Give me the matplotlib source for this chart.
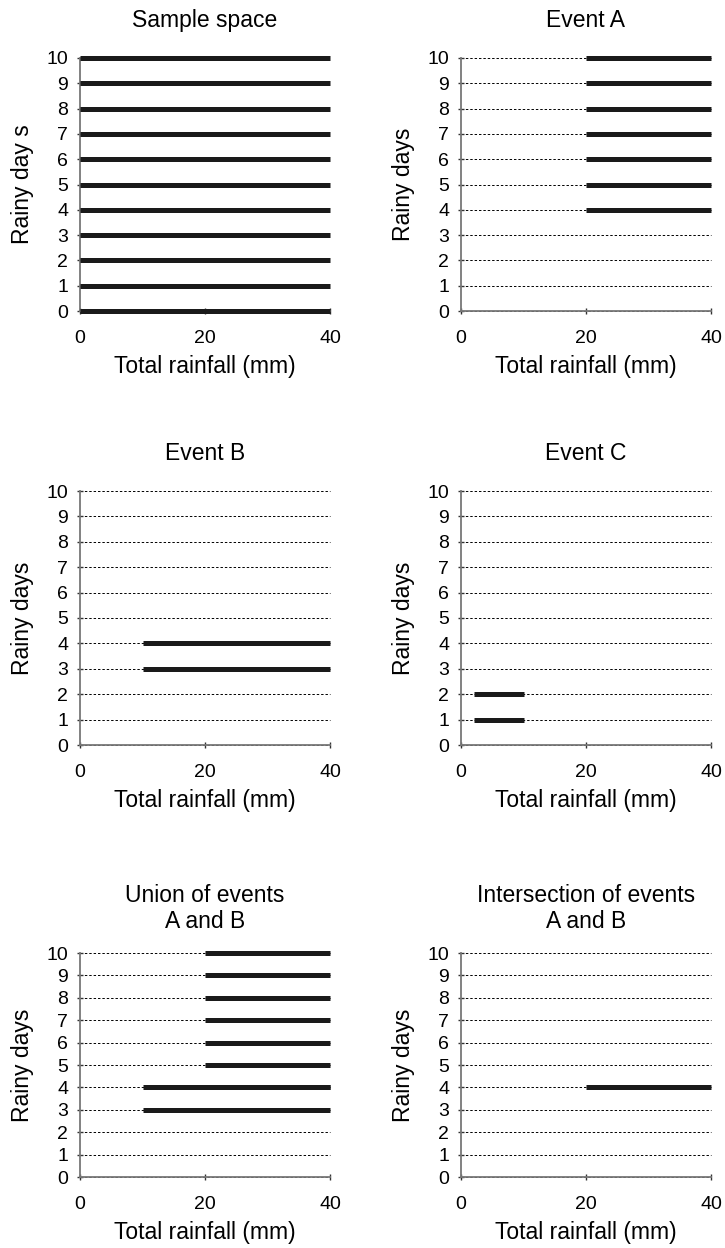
import numpy as np
import matplotlib.pyplot as plt

plt.rcParams['font.family'] = ['Liberation Sans', 'DejaVu Sans']

# rainy days values and rainfall ranges (start, end) in mm for each panel
days = np.arange(0, 11)

sample_days = list(range(0, 11))
sample_range = (0, 40)

a_days = list(range(4, 11))
a_range = (20, 40)

b_days = [3, 4]
b_range = (10, 40)

c_days = [1, 2]
c_range = (2, 10)

union_parts = [(list(range(4, 11)), (20, 40)), ([3, 4], (10, 40))]
inter_parts = [([4], (20, 40))]

panels = [
    ("Sample space", "Rainy day s", [(sample_days, sample_range)], False),
    ("Event A", "Rainy days", [(a_days, a_range)], True),
    ("Event B", "Rainy days", [(b_days, b_range)], True),
    ("Event C", "Rainy days", [(c_days, c_range)], True),
    ("Union of events\nA and B", "Rainy days", union_parts, True),
    ("Intersection of events\nA and B", "Rainy days", inter_parts, True),
]

W, H = 725, 1248
fig = plt.figure(figsize=(W / 100, H / 100), dpi=100)

col_left = [80, 461]
col_w = 250
row_tb = [(58, 311), (491, 745), (953, 1177)]

for i, (title, ylab, parts, grid) in enumerate(panels):
    r, c = divmod(i, 2)
    top, bot = row_tb[r]
    ax = fig.add_axes([col_left[c] / W, 1 - bot / H, col_w / W, (bot - top) / H])
    ax.set_xlim(0, 40)
    ax.set_ylim(0, 10)

    if grid:
        ax.hlines(days, 0, 40, colors='black', linestyles=(0, (2.5, 2)),
                  linewidth=0.7, clip_on=False, zorder=1)

    for ys, (x0, x1) in parts:
        ax.hlines(ys, x0, x1, colors='#1a1a1a', linewidth=3.6,
                  clip_on=False, zorder=3)

    for s in ['top', 'right']:
        ax.spines[s].set_visible(False)
    for s in ['left', 'bottom']:
        ax.spines[s].set_color('#777777')
        ax.spines[s].set_linewidth(1.3)

    ax.set_xticks([0, 20, 40])
    ax.set_yticks(days)
    ax.tick_params(direction='inout', length=5, width=1, color='#333333',
                   labelsize=14)
    ax.tick_params(axis='y', pad=6)
    ax.tick_params(axis='x', pad=11)
    ax.set_title(title, fontsize=16.5, pad=22 if r < 2 else 18,
                 linespacing=1.15)
    ax.set_ylabel(ylab, fontsize=16.5, labelpad=9)
    ax.set_xlabel("Total rainfall (mm)", fontsize=16.5, labelpad=6)

fig.savefig("out.png", dpi=100)
